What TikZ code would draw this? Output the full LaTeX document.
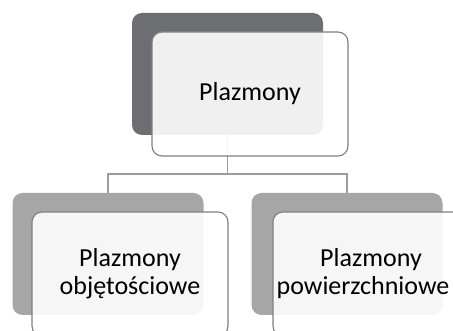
\documentclass[tikz,border=0pt]{standalone}
\usepackage{fontspec}
\setmainfont{Carlito}
\usetikzlibrary{positioning}
\definecolor{darkback}{HTML}{6D6E71}
\definecolor{lightback}{HTML}{A6A6A6}
\definecolor{edgegray}{HTML}{7F7F7F}
\definecolor{linkgray}{HTML}{9C9C9C}

\begin{document}
\begin{tikzpicture}[x=1pt, y=-1pt,
  back/.style={rounded corners=10pt, minimum width=191pt, minimum height=122pt, inner sep=0pt},
  front/.style={draw=edgegray, line width=1.1pt, fill=white, fill opacity=0.9, text opacity=1,
    rounded corners=10pt, minimum width=196pt, minimum height=124pt, inner sep=0pt,
    align=center, font=\fontsize{26}{28}\selectfont},
  link/.style={draw=linkgray, line width=1.6pt}]
  \useasboundingbox (0,0) rectangle (453,331);
  \clip (0,0) rectangle (453,331);
  % back plates
  \node[back, fill=darkback] (top) at (227.5,74) {};
  \node[back, fill=lightback] (left) at (108,254) {};
  \node[back, fill=lightback] (right) at (347,254) {};
  % tree links
  \draw[link] (top.south) -- ++(0,39) coordinate (fork) -| (left.north);
  \draw[link] (fork) -| (right.north);
  % front cards
  \node[front] (topcard) at (250,94) {\raisebox{3pt}{Plazmony}};
  \node[front] (leftcard) at (130,274) {Plazmony\\objętościowe};
  \node[front] (rightcard) at (371,274) {Plazmony\\\hspace*{-16pt}powierzchniowe};
\end{tikzpicture}
\end{document}
